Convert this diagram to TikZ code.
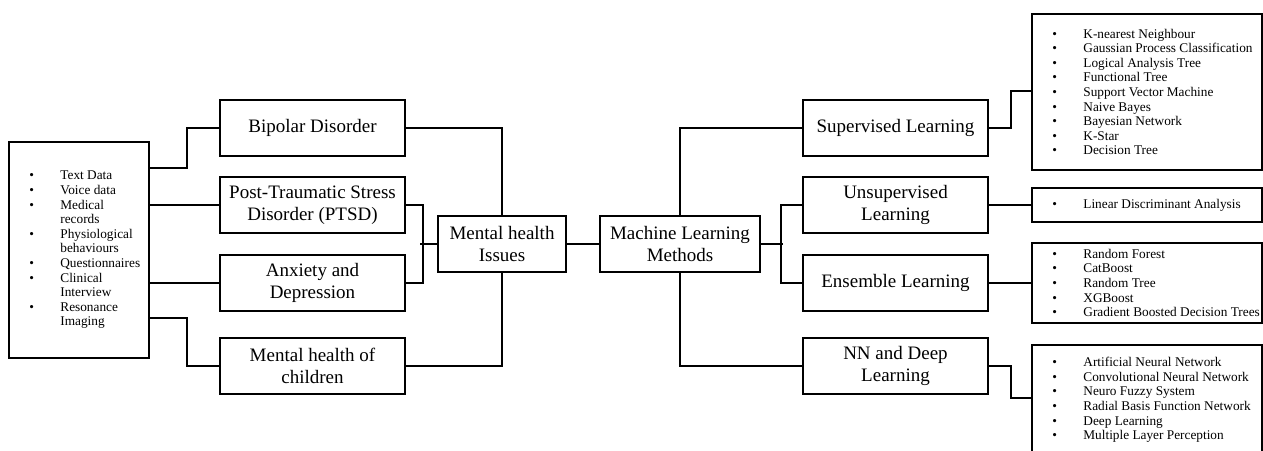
\documentclass[tikz,border=0pt]{standalone}
\usepackage{fontspec}
\setmainfont{Liberation Serif}
\usetikzlibrary{calc}
\newcommand{\lstitem}[1]{\makebox[31pt][l]{\textbullet}#1}
\newcommand{\lstcont}[1]{\makebox[31pt][l]{}#1}
\tikzset{
  box/.style={draw, line width=1.6pt, rectangle, inner sep=0pt, align=center,
    minimum height=56, font=\fontsize{19}{21.7}\selectfont},
  listbox/.style={draw, line width=1.6pt, rectangle, inner sep=0pt},
  listtxt/.style={anchor=west, inner sep=0pt, align=left,
    font=\fontsize{13.3}{14.6}\selectfont},
  conn/.style={line width=1.6pt}
}
\begin{document}
\begin{tikzpicture}[x=1pt,y=-1pt]
\useasboundingbox (0,0) rectangle (1263,450);
\clip (0,0) rectangle (1263,450);
\fill[white] (0,0) rectangle (1263,450);

% source box
\node[listbox, minimum width=140, minimum height=216] (src) at (79,250) {};
\node[listtxt] (srct) at ($(src.west)+(21,0)$) {%
\lstitem{Text Data}\\
\lstitem{Voice data}\\
\lstitem{Medical}\\
\lstcont{records}\\
\lstitem{Physiological}\\
\lstcont{behaviours}\\
\lstitem{Questionnaires}\\
\lstitem{Clinical}\\
\lstcont{Interview}\\
\lstitem{Resonance}\\
\lstcont{Imaging}};

% disorders
\node[box, minimum width=185] (bip) at (312.5,128) {Bipolar Disorder};
\node[box, minimum width=185] (ptsd) at (312.5,205) {Post-Traumatic Stress\\Disorder (PTSD)};
\node[box, minimum width=185] (anx) at (312.5,283) {Anxiety and\\Depression};
\node[box, minimum width=185] (chi) at (312.5,366) {Mental health of\\children};

\node[box, minimum width=128] (mhi) at (502,244) {Mental health\\Issues};
\node[box, minimum width=160] (ml) at (680,244) {Machine Learning\\Methods};

% methods
\node[box, minimum width=185] (sup) at (895.5,128) {Supervised Learning};
\node[box, minimum width=185] (uns) at (895.5,205) {Unsupervised\\Learning};
\node[box, minimum width=185] (ens) at (895.5,283) {Ensemble Learning};
\node[box, minimum width=185] (nn) at (895.5,366) {NN and Deep\\Learning};

% lists
\node[listbox, minimum width=230, minimum height=156] (supl) at (1147,92) {};
\node[listtxt] (suplt) at ($(supl.west)+(21,0)$) {%
\lstitem{K-nearest Neighbour}\\
\lstitem{Gaussian Process Classification}\\
\lstitem{Logical Analysis Tree}\\
\lstitem{Functional Tree}\\
\lstitem{Support Vector Machine}\\
\lstitem{Naive Bayes}\\
\lstitem{Bayesian Network}\\
\lstitem{K-Star}\\
\lstitem{Decision Tree}};

\node[listbox, minimum width=230, minimum height=34] (unsl) at (1147,205) {};
\node[listtxt] (unslt) at ($(unsl.west)+(21,0)$) {\lstitem{Linear Discriminant Analysis}};

\node[listbox, minimum width=230, minimum height=80] (ensl) at (1147,283) {};
\node[listtxt] (enslt) at ($(ensl.west)+(21,0)$) {%
\lstitem{Random Forest}\\
\lstitem{CatBoost}\\
\lstitem{Random Tree}\\
\lstitem{XGBoost}\\
\lstitem{Gradient Boosted Decision Trees}};

\node[listbox, minimum width=230, minimum height=110] (nnl) at (1147,400) {};
\node[listtxt] (nnlt) at ($(nnl.west)+(21,0)$) {%
\lstitem{Artificial Neural Network}\\
\lstitem{Convolutional Neural Network}\\
\lstitem{Neuro Fuzzy System}\\
\lstitem{Radial Basis Function Network}\\
\lstitem{Deep Learning}\\
\lstitem{Multiple Layer Perception}};

% connectors left
\draw[conn] ($(src.north east)+(0,27)$) -- ++(37,0) |- (bip.west);
\draw[conn] (src.east |- ptsd.west) -- (ptsd.west);
\draw[conn] (src.east |- anx.west) -- (anx.west);
\draw[conn] ($(src.north east)+(0,177)$) -- ++(37,0) |- (chi.west);

\draw[conn] (bip.east) -| (mhi.north);
\draw[conn] (chi.east) -| (mhi.south);
\draw[conn] (ptsd.east) -- ++(17,0) |- (anx.east);
\draw[conn] (mhi.west) -- ++(-17,0);
\draw[conn] (mhi.east) -- (ml.west);

% connectors right
\draw[conn] (ml.north) |- (sup.west);
\draw[conn] (ml.east) -- ++(22,0);
\draw[conn] (uns.west) -- ++(-21,0) |- (ens.west);
\draw[conn] (ml.south) |- (nn.west);

\draw[conn] (sup.east) -- ++(22,0) |- ($(supl.north west)+(0,78)$);
\draw[conn] (uns.east) -- (unsl.west);
\draw[conn] (ens.east) -- (ensl.west);
\draw[conn] (nn.east) -- ++(22,0) |- ($(nnl.north west)+(0,54)$);
\end{tikzpicture}
\end{document}
